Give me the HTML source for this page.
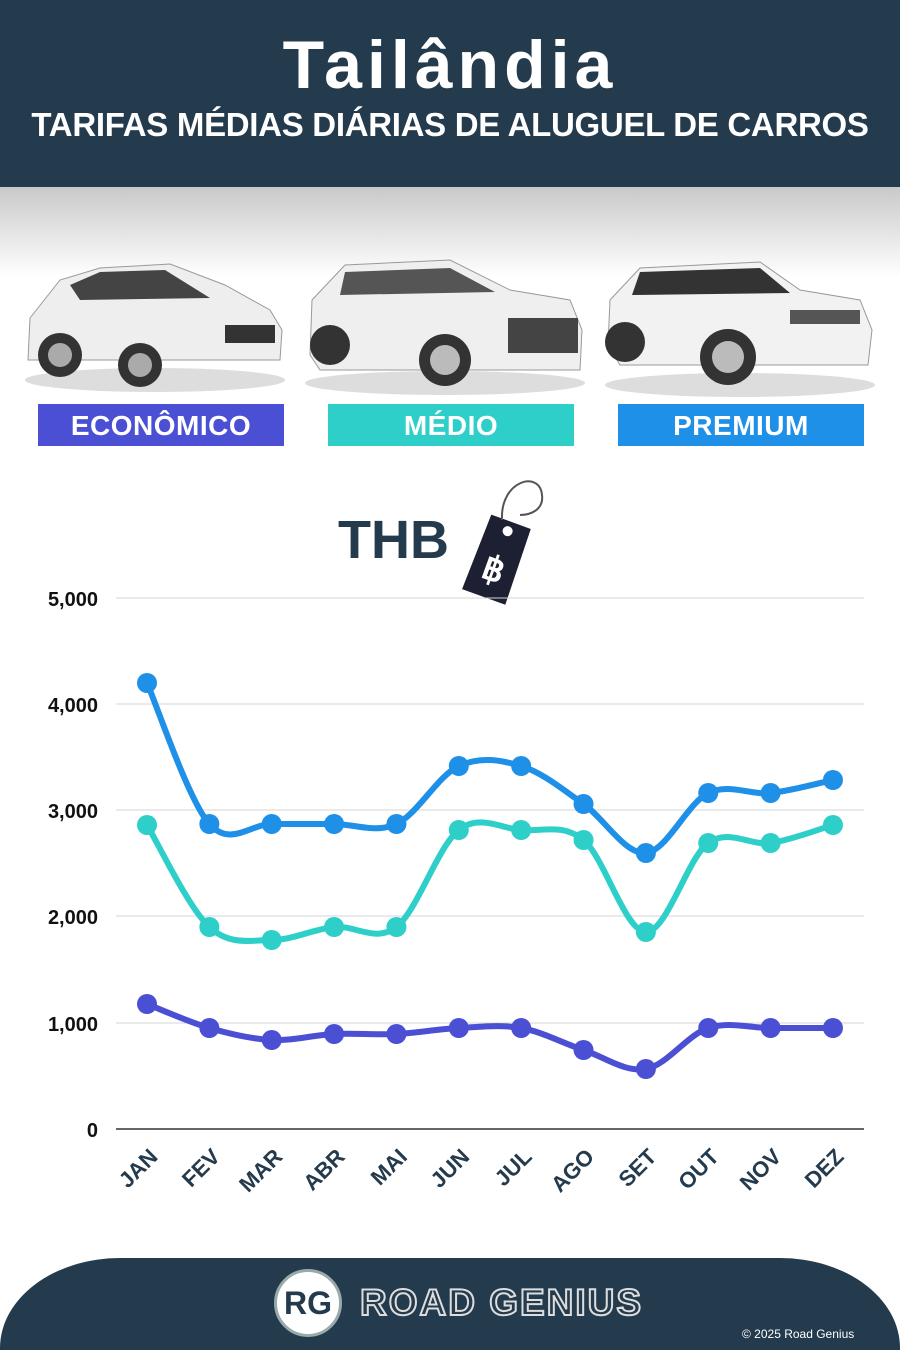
<!DOCTYPE html>
<html><head><meta charset="utf-8"><style>
html,body{margin:0;width:900px;height:1350px;overflow:hidden}
body{position:relative;background:#fff;font-family:"Liberation Sans",sans-serif}
.hdr{position:absolute;left:0;top:0;width:900px;height:187px;background:#243a4d;color:#fff;text-align:center}
.h1{position:absolute;top:26px;width:100%;font-size:68px;font-weight:bold;letter-spacing:5px}
.h2{position:absolute;top:106px;width:100%;font-size:33px;font-weight:bold;letter-spacing:-0.3px}
.shade{position:absolute;left:0;top:187px;width:900px;height:90px;background:linear-gradient(#c9c9c9,#fff)}
.lab{position:absolute;top:404px;height:42px;width:246px;color:#fff;font-weight:bold;font-size:28px;text-align:center;line-height:43px;letter-spacing:0.5px}
.foot{position:absolute;left:0;top:1258px;width:900px;height:92px;background:#243a4d;border-radius:120px 120px 0 0/90px 90px 0 0}
</style></head><body>
<div class="hdr"><div class="h1">Tailândia</div><div class="h2">TARIFAS MÉDIAS DIÁRIAS DE ALUGUEL DE CARROS</div></div>
<div class="shade"></div>
<svg width="900" height="1350" style="position:absolute;left:0;top:0">
<g>
<ellipse cx="155" cy="380" rx="130" ry="12" fill="#ddd"/>
<path d="M28 360 L30 318 L60 280 L100 268 L170 264 L225 285 L270 310 L282 330 L280 360 Z" fill="#eeeeee" stroke="#999"/>
<path d="M70 285 L100 272 L165 270 L210 298 L80 300 Z" fill="#444"/>
<circle cx="60" cy="355" r="22" fill="#333"/><circle cx="140" cy="365" r="22" fill="#333"/>
<circle cx="60" cy="355" r="12" fill="#aaa"/><circle cx="140" cy="365" r="12" fill="#aaa"/>
<rect x="225" y="325" width="50" height="18" fill="#333"/>
<ellipse cx="445" cy="383" rx="140" ry="12" fill="#ddd"/>
<path d="M310 355 L312 300 L345 265 L450 260 L510 290 L570 300 L582 330 L580 370 L320 370 Z" fill="#efefef" stroke="#999"/>
<path d="M345 272 L450 268 L495 292 L340 295 Z" fill="#555"/>
<rect x="508" y="318" width="70" height="35" fill="#444"/>
<circle cx="330" cy="345" r="20" fill="#333"/><circle cx="445" cy="360" r="26" fill="#333"/>
<circle cx="445" cy="360" r="15" fill="#bbb"/>
<ellipse cx="740" cy="385" rx="135" ry="12" fill="#ddd"/>
<path d="M608 345 L610 300 L640 268 L760 262 L800 290 L860 300 L872 330 L868 365 L620 365 Z" fill="#f2f2f2" stroke="#999"/>
<path d="M640 272 L760 268 L790 293 L632 295 Z" fill="#333"/>
<rect x="790" y="310" width="70" height="14" fill="#555"/>
<circle cx="625" cy="342" r="20" fill="#333"/><circle cx="728" cy="357" r="28" fill="#333"/>
<circle cx="728" cy="357" r="16" fill="#bbb"/>
</g>
<text x="338" y="558" font-size="54" font-weight="bold" fill="#243a4d" font-family="Liberation Sans">THB</text>
<g transform="rotate(20 500 555)">
<path d="M478 520 L520 520 L522 600 L476 600 Z" fill="#1d1f33"/>
<circle cx="499" cy="530" r="5" fill="#fff"/>
<text x="499" y="582" font-size="34" font-weight="bold" fill="#fff" text-anchor="middle">฿</text>
</g>
<path d="M502 520 C500 480 540 470 542 495 C544 510 530 515 520 515" fill="none" stroke="#555" stroke-width="2"/>
<g stroke="#d4d4d4" stroke-width="1">
<line x1="116" x2="864" y1="598" y2="598"/><line x1="116" x2="864" y1="704" y2="704"/>
<line x1="116" x2="864" y1="810" y2="810"/><line x1="116" x2="864" y1="916" y2="916"/>
<line x1="116" x2="864" y1="1023" y2="1023"/></g>
<line x1="116" x2="864" y1="1129" y2="1129" stroke="#333" stroke-width="1.5"/>
<g font-size="20" font-weight="bold" fill="#111" text-anchor="end">
<text x="98" y="606">5,000</text><text x="98" y="712">4,000</text><text x="98" y="818">3,000</text>
<text x="98" y="924">2,000</text><text x="98" y="1031">1,000</text><text x="98" y="1137">0</text></g>
<g id="xl" font-size="22" font-weight="bold" fill="#243a4d"></g>
<g id="series"></g>
</svg>
<div class="lab" style="left:38px;background:#4a4fd4">ECONÔMICO</div>
<div class="lab" style="left:328px;background:#2ecfc9">MÉDIO</div>
<div class="lab" style="left:618px;background:#1e90e8">PREMIUM</div>
<div class="foot"></div>
<div style="position:absolute;left:274px;top:1269px;width:68px;height:68px;border-radius:50%;background:#fff;border:3px solid #9aa;box-sizing:border-box;text-align:center;line-height:62px;font-size:32px;font-weight:bold;color:#243a4d">RG</div>
<div style="position:absolute;left:360px;top:1282px;font-size:37px;font-weight:bold;color:#243a4d;-webkit-text-stroke:2px #ddd;letter-spacing:2px">ROAD GENIUS</div>
<div style="position:absolute;left:742px;top:1327px;font-size:12px;color:#fff">© 2025 Road Genius</div>
<script>
var xs=[],m=["JAN","FEV","MAR","ABR","MAI","JUN","JUL","AGO","SET","OUT","NOV","DEZ"];
for(var i=0;i<12;i++)xs.push(147+i*62.36);
var S=[["#1e90e8",[683,824,824,824,824,766,766,804,853,793,793,780]],
["#2ecfc9",[825,927,940,927,927,830,830,840,932,843,843,825]],
["#4a4fd4",[1004,1028,1040,1034,1034,1028,1028,1050,1069,1028,1028,1028]]];
var g="";
S.forEach(function(s){var y=s[1],d="M"+xs[0]+" "+y[0];
for(var i=0;i<11;i++){var p0=i?i-1:i,p3=i<10?i+2:i+1;
var c1x=xs[i]+(xs[i+1]-xs[p0])/6,c1y=y[i]+(y[i+1]-y[p0])/6,c2x=xs[i+1]-(xs[p3]-xs[i])/6,c2y=y[i+1]-(y[p3]-y[i])/6;
d+=" C"+c1x+" "+c1y+" "+c2x+" "+c2y+" "+xs[i+1]+" "+y[i+1];}
g+='<path d="'+d+'" fill="none" stroke="'+s[0]+'" stroke-width="6"/>';
for(var i=0;i<12;i++)g+='<circle cx="'+xs[i]+'" cy="'+y[i]+'" r="10" fill="'+s[0]+'"/>';});
document.getElementById("series").innerHTML=g;
var t="";m.forEach(function(l,i){var x=xs[i]+12,y=1158;t+='<text x="'+x+'" y="'+y+'" text-anchor="end" transform="rotate(-45 '+x+' '+y+')">'+l+'</text>';});
document.getElementById("xl").innerHTML=t;
</script>
</body></html>
